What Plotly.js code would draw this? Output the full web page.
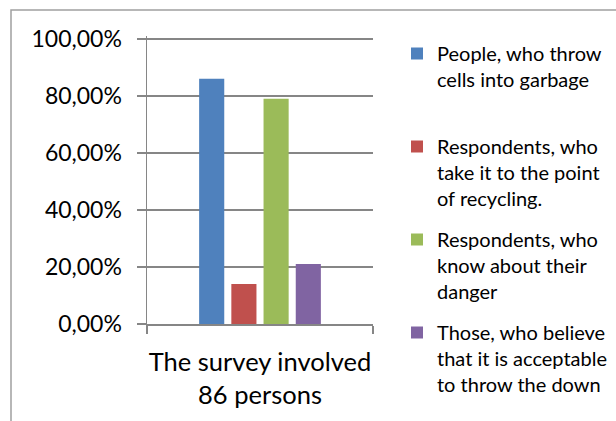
<!DOCTYPE html>
<html><head><meta charset="utf-8">
<script src="https://cdn.plot.ly/plotly-3.0.1.min.js"></script>
<style>html,body{margin:0;padding:0;background:#fff}#chart{width:616px;height:421px}</style>
</head><body><div id="chart"></div>
<script>
const categories = ["The survey involved<br>86 persons"];
const seriesNames = [
  "People, who throw<br>cells into garbage<br> ",
  "Respondents, who<br>take it to the point<br>of recycling.",
  "Respondents, who<br>know about their<br>danger",
  "Those, who believe<br>that it is acceptable<br>to throw the down"
];
const seriesValues = [[0.86], [0.14], [0.79], [0.21]];
const seriesColors = ["#4F81BD", "#C0504D", "#9BBB59", "#8064A2"];
const yTickValues = [0, 0.2, 0.4, 0.6, 0.8, 1.0];

const FONT = "Lato, 'Open Sans', sans-serif";
const GRID = "#868686";

const traces = seriesNames.map((name, i) => ({
  type: "bar",
  name: name,
  x: categories,
  y: seriesValues[i],
  marker: {color: seriesColors[i]},
  legendgroup: "g" + i,
  hoverinfo: "skip"
}));

const W = 616, H = 421, L = 147, R = 243, T = 36, B = 97;
const pw = W - L - R, ph = H - T - B;
const px = v => (v - L) / pw;
const py = v => (H - B - v) / ph;

const layout = {
  width: W, height: H,
  margin: {l: L, r: R, t: T, b: B, pad: 0, autoexpand: false},
  paper_bgcolor: "#fff", plot_bgcolor: "#fff",
  separators: ", ",
  font: {family: FONT, color: "#000"},
  barmode: "group",
  bargap: 0.43,
  bargroupgap: 0.22,
  showlegend: true,
  legend: {
    x: px(397), xanchor: "left",
    y: py(34), yanchor: "top",
    valign: "top",
    tracegroupgap: 12,
    maxheight: 400,
    font: {family: FONT, size: 20, color: "#000"},
    bgcolor: "rgba(0,0,0,0)"
  },
  xaxis: {
    type: "category",
    tickson: "boundaries",
    tickangle: 0,
    automargin: false,
    ticks: "outside", ticklen: 8, tickwidth: 1.5, tickcolor: GRID,
    showline: true, linecolor: GRID, linewidth: 1.5,
    showgrid: false, zeroline: false,
    ticklabelstandoff: 15,
    tickfont: {family: FONT, size: 25.5, color: "#000"}
  },
  yaxis: {
    range: [0, 1.01],
    tickvals: yTickValues,
    tickformat: ".2%",
    automargin: false,
    ticks: "outside", ticklen: 9, tickwidth: 1.5, tickcolor: GRID,
    showline: true, linecolor: GRID, linewidth: 1.5,
    showgrid: true, gridcolor: GRID, gridwidth: 1.5,
    zeroline: false,
    ticklabelstandoff: 10,
    tickfont: {family: FONT, size: 23, color: "#000"}
  },
  shapes: [{
    type: "rect", xref: "paper", yref: "paper",
    x0: px(11), x1: px(700), y0: py(500), y1: py(10),
    line: {color: "#a0a0a0", width: 1.5},
    fillcolor: "rgba(0,0,0,0)", layer: "below"
  }]
};

Plotly.newPlot("chart", traces, layout, {staticPlot: true, displayModeBar: false});
</script>
</body></html>
